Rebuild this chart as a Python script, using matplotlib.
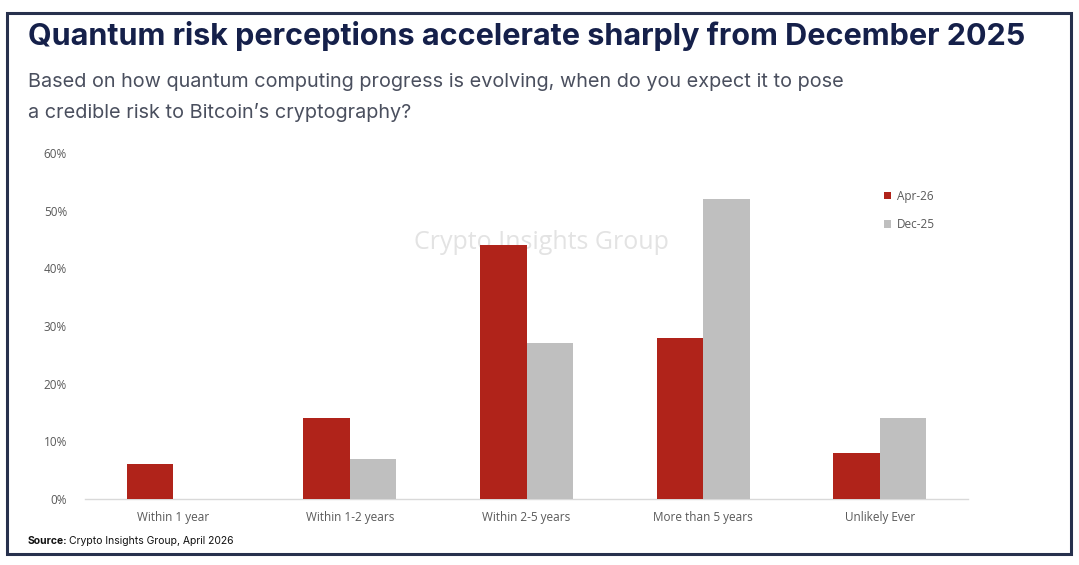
import matplotlib
matplotlib.use("Agg")
import matplotlib.pyplot as plt
from matplotlib.patches import Rectangle
import numpy as np

categories = ["Within 1 year", "Within 1-2 years", "Within 2-5 years", "More than 5 years", "Unlikely Ever"]
apr26 = [6, 14, 44, 28, 8]
dec25 = [0, 7, 27, 52, 14]
yticks = [0, 10, 20, 30, 40, 50, 60]

W, H = 1079, 565
fig = plt.figure(figsize=(W/100, H/100), dpi=100)
fig.patch.set_facecolor("white")

# border
fig.patches.append(Rectangle((7/W, 1-554/H), (1071-7)/W, (554-13)/H, transform=fig.transFigure,
                             fill=False, edgecolor="#27314d", linewidth=2.2))

fig.text(28/W, 1-36/H, "Quantum risk perceptions accelerate sharply from December 2025",
         fontsize=22, fontweight="bold", color="#15204a", family="Inter", va="center", ha="left")
fig.text(28/W, 1-82/H, "Based on how quantum computing progress is evolving, when do you expect it to pose",
         fontsize=14.3, color="#4a4f5e", family="Inter", va="center", ha="left")
fig.text(28/W, 1-113/H, "a credible risk to Bitcoin\u2019s cryptography?",
         fontsize=14.3, color="#4a4f5e", family="Inter", va="center", ha="left")

ax = fig.add_axes([85/W, 1-499/H, (968-85)/W, (499-153)/H])
x = np.arange(len(categories))
bw = 0.263
red = "#b0231a"
gray = "#bfbfbf"
ax.bar(x - bw/2, apr26, width=bw, color=red, label="Apr-26", zorder=3)
ax.bar(x + bw/2, dec25, width=bw, color=gray, label="Dec-25", zorder=3)
ax.set_xlim(-0.5, len(categories) - 0.5)
ax.set_ylim(0, 60)
ax.set_yticks(yticks)
ax.set_yticklabels([f"{v}%" for v in yticks], fontsize=8.5, color="#595959", family="Open Sans")
ax.set_xticks(x)
ax.set_xticklabels(categories, fontsize=8.5, color="#595959", family="Open Sans")
ax.tick_params(axis="both", length=0)
ax.tick_params(axis="y", pad=13)
ax.tick_params(axis="x", pad=9)
for s in ["top", "right", "left"]:
    ax.spines[s].set_visible(False)
ax.spines["bottom"].set_color("#d9d9d9")
ax.spines["bottom"].set_linewidth(1)
ax.set_facecolor("none")

ax.text(0.517, 0.74, "Crypto Insights Group", transform=ax.transAxes, fontsize=18,
        color="#e3e3e3", family="Open Sans", ha="center", va="center", zorder=1)

leg = ax.legend(loc="upper left", bbox_to_anchor=(0.893, 0.925), frameon=False,
                handlelength=0.6, handleheight=0.6, handletextpad=0.5, labelspacing=1.3,
                prop={"family": "Open Sans", "size": 8.5})
for t in leg.get_texts():
    t.set_color("#595959")

fig.text(28/W, 1-541/H, "Source:", fontsize=7.5, fontweight="bold", color="#111111",
         family="Inter", va="center", ha="left")
fig.text(69/W, 1-541/H, "Crypto Insights Group, April 2026", fontsize=7.5, color="#111111",
         family="Inter", va="center", ha="left")

fig.savefig("out.png", dpi=100)
